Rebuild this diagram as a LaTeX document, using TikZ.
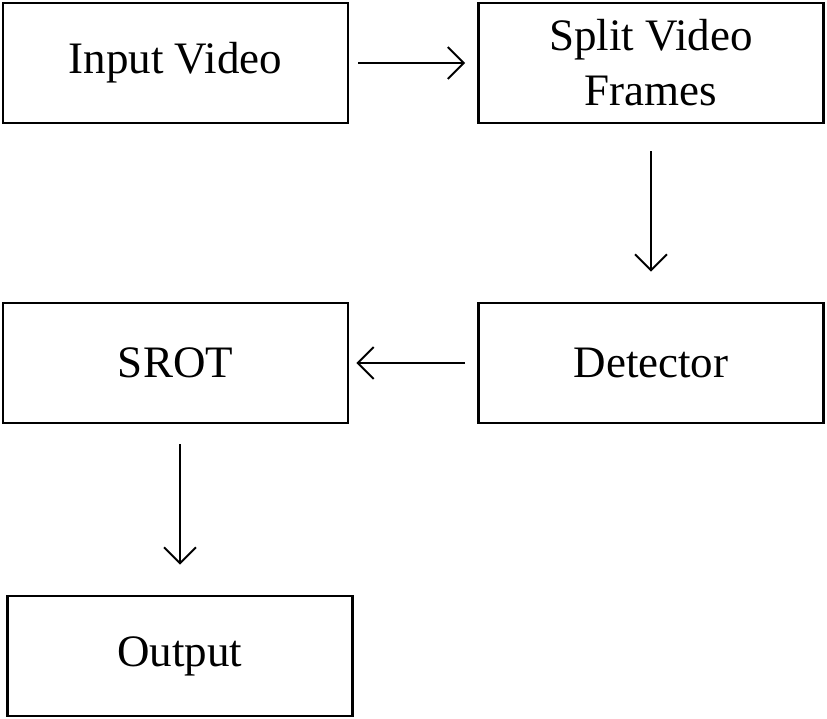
\documentclass[tikz,border=0pt]{standalone}
\usepackage{fontspec}
\setmainfont{Liberation Serif}
\usetikzlibrary{arrows.meta,positioning}

\begin{document}
\begin{tikzpicture}[
  x=0.5pt, y=-0.5pt,
  blk/.style={
    draw=black, line width=1.3pt,
    minimum width=172.5pt, minimum height=60pt,
    align=center, inner sep=0pt,
    font=\fontsize{22.5}{27.5}\selectfont},
  arr/.style={-{Straight Barb[length=8pt,width=16pt,line width=1pt]}, line width=1pt},
]
  \useasboundingbox (0,0) rectangle (827,719);

  \node[blk] (A) at (175.5,63) {Input Video};
  \node[blk] (B) at (651,63)   {Split Video\\Frames};
  \node[blk] (C) at (651,363)  {Detector};
  \node[blk] (D) at (175.5,363){SROT};
  \node[blk] (E) at (180,656)  {Output};

  \draw[arr, shorten <=4.5pt, shorten >=6pt] (A) -- (B);
  \draw[arr, shorten <=13.5pt, shorten >=15pt] (B.south) -- (C.north);
  \draw[arr, shorten <=6pt, shorten >=3.5pt] (C) -- (D);
  \draw[arr, shorten <=10pt, shorten >=15pt] (E.north |- D.south) -- (E.north);
\end{tikzpicture}
\end{document}
